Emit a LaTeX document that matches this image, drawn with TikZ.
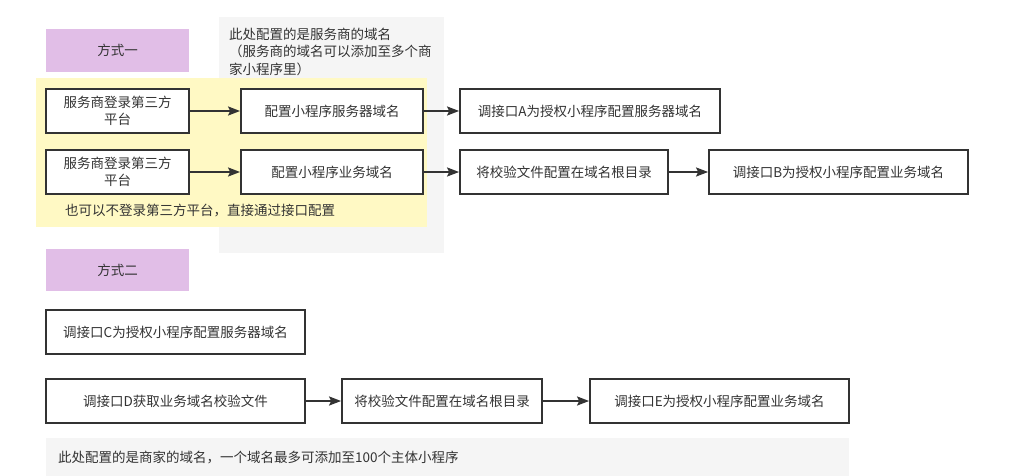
\documentclass[tikz,border=0pt]{standalone}
\usepackage{fontspec}
\setmainfont{Noto Sans CJK SC}
\usetikzlibrary{arrows.meta}
\definecolor{ink}{HTML}{333333}
\definecolor{purp}{HTML}{E1BEE7}
\definecolor{yel}{HTML}{FFF9C4}
\definecolor{gry}{HTML}{F5F5F5}
\begin{document}
\begin{tikzpicture}[x=1pt,y=-1pt,
  every node/.style={font=\fontsize{13.5}{17.5}\selectfont, text=ink, inner sep=0pt},
  stepbox/.style={draw=ink, line width=1.8pt, fill=white, align=center},
  tagbox/.style={fill=purp},
  conn/.style={draw=ink, line width=1.8pt, -{Stealth[length=12pt,width=9pt,inset=2pt]}},
  note/.style={align=left, anchor=west}]
\useasboundingbox (0,0) rectangle (1014,476);
\fill[white] (0,0) rectangle (1014,476);
% background areas
\fill[gry] (219,17) rectangle (444,253);
\fill[yel] (36,78) rectangle (427,227);
\fill[gry] (46,438) rectangle (849,476);
% notes
\node[note, anchor=north west] (n1) at (229,27.5) {此处配置的是服务商的域名\\（服务商的域名可以添加至多个商\\家小程序里）};
\node[note] (n2) at (65,211) {也可以不登录第三方平台，直接通过接口配置};
\node[note] (n3) at (58,458) {此处配置的是商家的域名，一个域名最多可添加至100个主体小程序};
% tags
\node[tagbox, minimum width=143pt, minimum height=43pt] (t1) at (117.5,50.5) {方式一};
\node[tagbox, minimum width=143pt, minimum height=42pt] (t2) at (117.5,270) {方式二};
% row 1
\node[stepbox, minimum width=143pt, minimum height=44pt] (a1) at (117.5,111) {服务商登录第三方\\平台};
\node[stepbox, minimum width=182pt, minimum height=44pt] (a2) at (332,111) {配置小程序服务器域名};
\node[stepbox, minimum width=260pt, minimum height=44pt] (a3) at (590,111) {调接口A为授权小程序配置服务器域名};
% row 2
\node[stepbox, minimum width=143pt, minimum height=44pt] (b1) at (117.5,172) {服务商登录第三方\\平台};
\node[stepbox, minimum width=182pt, minimum height=44pt] (b2) at (332,172) {配置小程序业务域名};
\node[stepbox, minimum width=208pt, minimum height=44pt] (b3) at (564,172) {将校验文件配置在域名根目录};
\node[stepbox, minimum width=259pt, minimum height=44pt] (b4) at (838.5,172) {调接口B为授权小程序配置业务域名};
% mode 2
\node[stepbox, minimum width=259pt, minimum height=44pt] (c1) at (175.5,332) {调接口C为授权小程序配置服务器域名};
\node[stepbox, minimum width=259pt, minimum height=44pt] (d1) at (175.5,401) {调接口D获取业务域名校验文件};
\node[stepbox, minimum width=200pt, minimum height=44pt] (d2) at (442,401) {将校验文件配置在域名根目录};
\node[stepbox, minimum width=259pt, minimum height=44pt] (d3) at (719.5,401) {调接口E为授权小程序配置业务域名};
% connectors
\draw[conn] (a1) -- (a2);
\draw[conn] (a2) -- (a3);
\draw[conn] (b1) -- (b2);
\draw[conn] (b2) -- (b3);
\draw[conn] (b3) -- (b4);
\draw[conn] (d1) -- (d2);
\draw[conn] (d2) -- (d3);
\end{tikzpicture}
\end{document}
